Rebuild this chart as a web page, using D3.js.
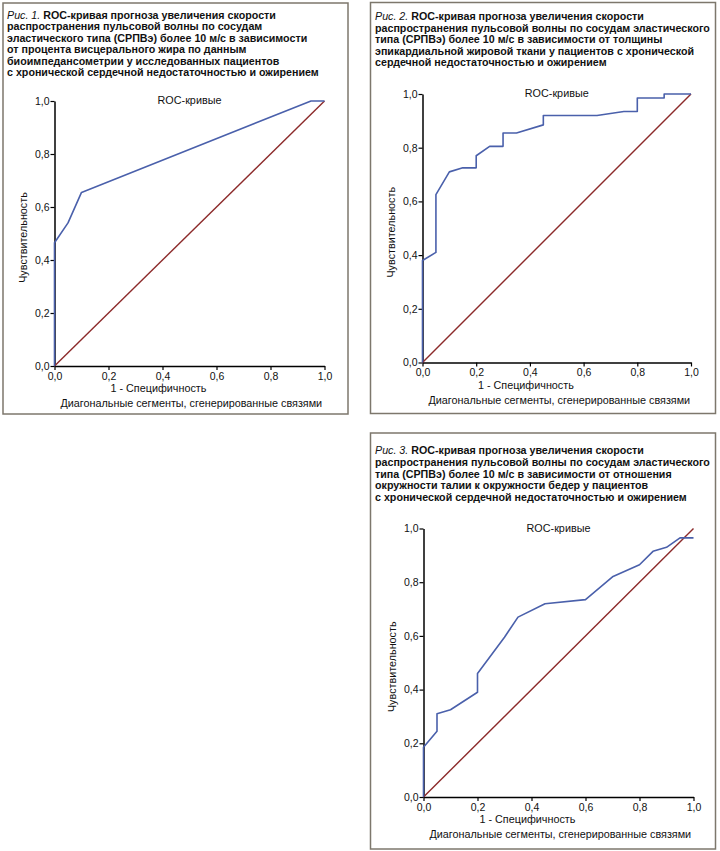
<!DOCTYPE html>
<html>
<head>
<meta charset="utf-8">
<script src="https://cdn.jsdelivr.net/npm/d3@7"></script>
<style>
  body { margin: 0; background: #fff; }
  svg { display: block; font-family: "Liberation Sans", Arial, sans-serif; }
</style>
</head>
<body>
<div id="chart"></div>
<script>
// data
const ticks = [0, 0.2, 0.4, 0.6, 0.8, 1.0];
const diagonal = [[0, 0], [1, 1]];

// fig 1: visceral fat
const fpr1 = [0, 0, 0.05, 0.10, 0.95, 1.0];
const tpr1 = [0, 0.465, 0.54, 0.655, 1.0, 1.0];

// fig 2: epicardial fat
const fpr2 = [0, 0, 0.05, 0.05, 0.10, 0.15, 0.20, 0.20, 0.25, 0.30, 0.30, 0.35, 0.45, 0.45, 0.65, 0.75, 0.80, 0.80, 0.90, 0.90, 1.0];
const tpr2 = [0, 0.38, 0.41, 0.625, 0.71, 0.725, 0.725, 0.77, 0.805, 0.805, 0.855, 0.855, 0.885, 0.92, 0.92, 0.935, 0.935, 0.985, 0.985, 1.0, 1.0];

// fig 3: waist/hip ratio
const fpr3 = [0, 0, 0.05, 0.05, 0.10, 0.20, 0.20, 0.30, 0.35, 0.45, 0.60, 0.70, 0.80, 0.85, 0.90, 0.95, 1.0];
const tpr3 = [0, 0.185, 0.245, 0.31, 0.325, 0.39, 0.46, 0.595, 0.67, 0.72, 0.735, 0.82, 0.865, 0.915, 0.93, 0.965, 0.965];

const titles = [
  ["ROC-кривая прогноза увеличения скорости",
   "распространения пульсовой волны по сосудам",
   "эластического типа (СРПВэ) более 10 м/с в зависимости",
   "от процента висцерального жира по данным",
   "биоимпедансометрии у исследованных пациентов",
   "с хронической сердечной недостаточностью и ожирением"],
  ["ROC-кривая прогноза увеличения скорости",
   "распространения пульсовой волны по сосудам эластического",
   "типа (СРПВэ) более 10 м/с в зависимости от толщины",
   "эпикардиальной жировой ткани у пациентов с хронической",
   "сердечной недостаточностью и ожирением"],
  ["ROC-кривая прогноза увеличения скорости",
   "распространения пульсовой волны по сосудам эластического",
   "типа (СРПВэ) более 10 м/с в зависимости от отношения",
   "окружности талии к окружности бедер у пациентов",
   "с хронической сердечной недостаточностью и ожирением"]
];

const color = {
  border: '#7d776c',
  roc: '#4a60ab',
  diag: '#8c2a2a',
  text: '#111'
};

const svg = d3.select('#chart').append('svg')
  .attr('width', 720).attr('height', 851);

const panels = [
  { box: [3, 3, 345, 411], titleX: 7, titleY: 19, lh: 11.4, fig: 'Рис. 1.',
    plot: [54.5, 101, 324.5, 366], fpr: fpr1, tpr: tpr1, title: titles[0] },
  { box: [370.5, 2.5, 345, 411], titleX: 375, titleY: 20, lh: 11.5, fig: 'Рис. 2.',
    plot: [422.5, 94, 691, 362.5], fpr: fpr2, tpr: tpr2, title: titles[1] },
  { box: [370.5, 433, 345, 416], titleX: 375, titleY: 454, lh: 11.75, fig: 'Рис. 3.',
    plot: [423.5, 528.5, 693.5, 797], fpr: fpr3, tpr: tpr3, title: titles[2] }
];

panels.forEach(drawPanel);

function drawPanel(p) {
  const g = svg.append('g');

  // frame
  g.append('rect')
    .attr('x', p.box[0]).attr('y', p.box[1])
    .attr('width', p.box[2]).attr('height', p.box[3])
    .attr('fill', 'none')
    .attr('stroke', color.border)
    .attr('stroke-width', 1.5);

  // caption
  const cap = g.append('text')
    .attr('font-size', 10.7)
    .attr('fill', color.text);
  p.title.forEach((line, i) => {
    const t = cap.append('tspan')
      .attr('x', p.titleX)
      .attr('y', p.titleY + i * p.lh);
    if (i === 0) {
      t.append('tspan').attr('font-style', 'italic').text(p.fig + ' ');
    }
    t.append('tspan').attr('font-weight', 'bold').text(line);
  });

  const [x0, y0, x1, y1] = p.plot;
  const x = d3.scaleLinear().domain([0, 1]).range([x0, x1]);
  const y = d3.scaleLinear().domain([0, 1]).range([y1, y0]);
  const fmt = d => d3.format('.1f')(d).replace('.', ',');

  // axes
  const xAxis = g.append('g')
    .attr('transform', `translate(0, ${y1})`)
    .call(d3.axisBottom(x).tickValues(ticks).tickFormat(fmt).tickSize(4).tickSizeOuter(0));
  const yAxis = g.append('g')
    .attr('transform', `translate(${x0}, 0)`)
    .call(d3.axisLeft(y).tickValues(ticks).tickFormat(fmt).tickSize(4).tickSizeOuter(0));
  [xAxis, yAxis].forEach(a => {
    a.select('.domain').attr('stroke', '#000').attr('stroke-width', 1.5);
    a.selectAll('.tick line').attr('stroke', '#000').attr('stroke-width', 1.2);
    a.selectAll('.tick text')
      .attr('font-family', '"Liberation Sans", Arial, sans-serif')
      .attr('font-size', 10.5)
      .attr('fill', color.text);
  });
  xAxis.selectAll('.tick text').attr('dy', '0.72em').attr('y', 6);
  yAxis.selectAll('.tick text').attr('x', -5);

  // diagonal reference
  const line = d3.line().x(d => x(d[0])).y(d => y(d[1]));
  g.append('path')
    .datum(diagonal)
    .attr('d', line)
    .attr('fill', 'none')
    .attr('stroke', color.diag)
    .attr('stroke-width', 1.4);

  // ROC curve
  const pts = p.fpr.map((f, i) => [f, p.tpr[i]]);
  g.append('path')
    .datum(pts)
    .attr('d', line)
    .attr('fill', 'none')
    .attr('stroke', color.roc)
    .attr('stroke-width', 1.6)
    .attr('stroke-linejoin', 'round');

  // labels
  g.append('text')
    .attr('x', (x0 + x1) / 2).attr('y', y0 + 3)
    .attr('text-anchor', 'middle')
    .attr('font-size', 10.8)
    .attr('fill', color.text)
    .text('ROC-кривые');

  g.append('text')
    .attr('transform', `translate(${x0 - 28}, ${(y0 + y1) / 2 + 4}) rotate(-90)`)
    .attr('text-anchor', 'middle')
    .attr('font-size', 10.8)
    .attr('fill', color.text)
    .text('Чувствительность');

  g.append('text')
    .attr('x', x0 + 0.385 * (x1 - x0)).attr('y', y1 + 26)
    .attr('text-anchor', 'middle')
    .attr('font-size', 10.8)
    .attr('fill', color.text)
    .text('1 - Специфичность');

  g.append('text')
    .attr('x', x0 + 6).attr('y', y1 + 41)
    .attr('font-size', 10.8)
    .attr('fill', color.text)
    .text('Диагональные сегменты, сгенерированные связями');
}
</script>
</body>
</html>
